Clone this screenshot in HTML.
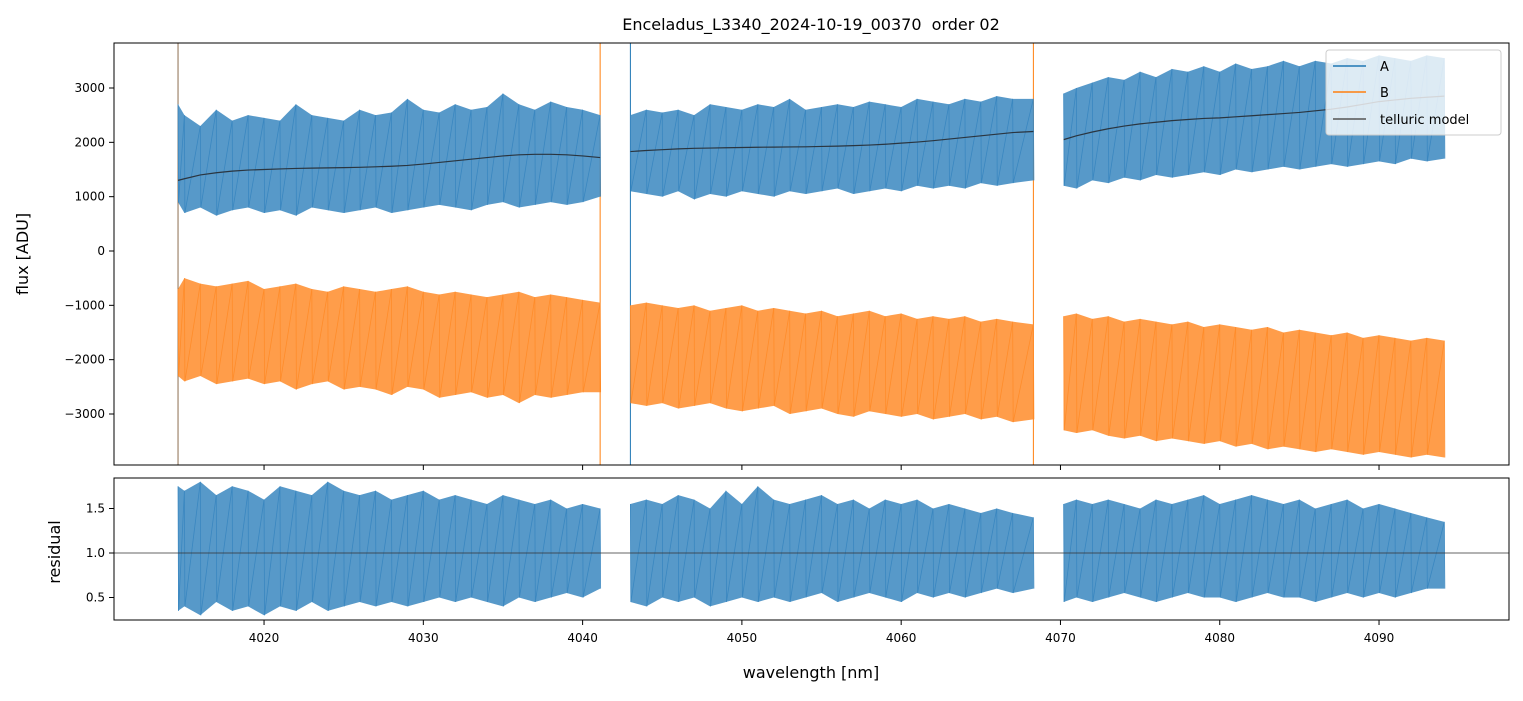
<!DOCTYPE html>
<html><head><meta charset="utf-8"><style>
body{margin:0;background:#fff;font-family:"Liberation Sans","DejaVu Sans",sans-serif}
svg text{font-family:"DejaVu Sans","Liberation Sans",sans-serif}
</style></head><body>
<svg id="chart" width="1523" height="696" xmlns="http://www.w3.org/2000/svg">
<defs>
<clipPath id="ct"><rect x="114" y="43" width="1395" height="422"/></clipPath>
<clipPath id="cb"><rect x="114" y="478" width="1395" height="142"/></clipPath>
</defs>
<g id="plot"></g>
<text x="811" y="30" font-size="16" text-anchor="middle">Enceladus_L3340_2024-10-19_00370&#160; order 02</text>
<text x="811" y="678" font-size="16" text-anchor="middle">wavelength [nm]</text>
<text transform="translate(28,254) rotate(-90)" font-size="16" text-anchor="middle">flux [ADU]</text>
<text transform="translate(60,552) rotate(-90)" font-size="16" text-anchor="middle">residual</text>
</svg>
<script>
const seg1 = [4014.6,4015,4016,4017,4018,4019,4020,4021,4022,4023,4024,4025,4026,4027,4028,4029,4030,4031,4032,4033,4034,4035,4036,4037,4038,4039,4040,4041.1];
const seg2 = [4043.0,4044,4045,4046,4047,4048,4049,4050,4051,4052,4053,4054,4055,4056,4057,4058,4059,4060,4061,4062,4063,4064,4065,4066,4067,4068.3];
const seg3 = [4070.2,4071,4072,4073,4074,4075,4076,4077,4078,4079,4080,4081,4082,4083,4084,4085,4086,4087,4088,4089,4090,4091,4092,4093,4094.1];
const aHi = [
 [2700,2500,2300,2600,2400,2500,2450,2400,2700,2500,2450,2400,2600,2500,2550,2800,2600,2550,2700,2600,2650,2900,2700,2600,2750,2650,2600,2500],
 [2500,2600,2550,2600,2500,2700,2650,2600,2700,2650,2800,2600,2650,2700,2650,2750,2700,2650,2800,2750,2700,2800,2750,2850,2800,2800],
 [2900,3000,3100,3200,3150,3300,3200,3350,3300,3400,3300,3450,3350,3400,3500,3400,3500,3450,3550,3500,3600,3550,3500,3600,3550]];
const aLo = [
 [900,700,800,650,750,800,700,750,650,800,750,700,750,800,700,750,800,850,800,750,850,900,800,850,900,850,900,1000],
 [1100,1050,1000,1100,950,1050,1000,1100,1050,1000,1100,1050,1100,1150,1050,1100,1150,1100,1200,1150,1200,1150,1250,1200,1250,1300],
 [1200,1150,1300,1250,1350,1300,1400,1350,1400,1450,1400,1500,1450,1500,1550,1500,1550,1600,1550,1600,1650,1600,1700,1650,1700]];
const bHi = [
 [-700,-500,-600,-650,-600,-550,-700,-650,-600,-700,-750,-650,-700,-750,-700,-650,-750,-800,-750,-800,-850,-800,-750,-850,-800,-850,-900,-950],
 [-1000,-950,-1000,-1050,-1000,-1100,-1050,-1000,-1100,-1050,-1100,-1150,-1100,-1200,-1150,-1100,-1200,-1150,-1250,-1200,-1250,-1200,-1300,-1250,-1300,-1350],
 [-1200,-1150,-1250,-1200,-1300,-1250,-1300,-1350,-1300,-1400,-1350,-1400,-1450,-1400,-1500,-1450,-1500,-1550,-1500,-1600,-1550,-1600,-1650,-1600,-1650]];
const bLo = [
 [-2300,-2400,-2300,-2450,-2400,-2350,-2450,-2400,-2550,-2450,-2400,-2550,-2500,-2550,-2650,-2500,-2550,-2700,-2650,-2600,-2700,-2650,-2800,-2650,-2700,-2650,-2600,-2600],
 [-2800,-2850,-2800,-2900,-2850,-2800,-2900,-2950,-2900,-2850,-3000,-2950,-2900,-3000,-3050,-2950,-3000,-3050,-3000,-3100,-3050,-3000,-3100,-3050,-3150,-3100],
 [-3300,-3350,-3300,-3400,-3450,-3400,-3500,-3450,-3500,-3550,-3500,-3600,-3550,-3650,-3600,-3650,-3700,-3650,-3700,-3750,-3700,-3750,-3800,-3750,-3800]];
const model = [
 [1300,1330,1400,1440,1470,1490,1500,1510,1520,1525,1530,1535,1540,1550,1560,1575,1600,1630,1660,1690,1720,1750,1770,1780,1780,1770,1750,1720],
 [1830,1850,1865,1880,1890,1895,1900,1905,1910,1912,1915,1918,1925,1930,1940,1950,1965,1985,2005,2030,2060,2090,2120,2150,2180,2200],
 [2050,2120,2190,2250,2300,2340,2370,2400,2420,2440,2450,2470,2490,2510,2530,2550,2580,2610,2650,2700,2750,2780,2810,2830,2850]];
const rHi = [
 [1.75,1.7,1.8,1.65,1.75,1.7,1.6,1.75,1.7,1.65,1.8,1.7,1.65,1.7,1.6,1.65,1.7,1.6,1.65,1.6,1.55,1.65,1.6,1.55,1.6,1.5,1.55,1.5],
 [1.55,1.6,1.55,1.65,1.6,1.5,1.7,1.55,1.75,1.6,1.55,1.6,1.65,1.55,1.6,1.5,1.6,1.55,1.6,1.5,1.55,1.5,1.45,1.5,1.45,1.4],
 [1.55,1.6,1.55,1.6,1.55,1.5,1.6,1.55,1.6,1.65,1.55,1.6,1.65,1.6,1.55,1.6,1.5,1.55,1.6,1.5,1.55,1.5,1.45,1.4,1.35]];
const rLo = [
 [0.35,0.4,0.3,0.45,0.35,0.4,0.3,0.4,0.35,0.45,0.35,0.4,0.45,0.4,0.45,0.4,0.45,0.5,0.45,0.5,0.45,0.4,0.5,0.45,0.5,0.55,0.5,0.6],
 [0.45,0.4,0.5,0.45,0.5,0.4,0.45,0.5,0.45,0.5,0.45,0.5,0.55,0.45,0.5,0.55,0.5,0.45,0.55,0.5,0.55,0.5,0.55,0.6,0.55,0.6],
 [0.45,0.5,0.45,0.5,0.55,0.5,0.45,0.5,0.55,0.5,0.5,0.45,0.5,0.55,0.5,0.5,0.45,0.5,0.55,0.5,0.55,0.5,0.55,0.6,0.6]];
const xTicks = [4020,4030,4040,4050,4060,4070,4080,4090];
const yTicksTop = [3000,2000,1000,0,-1000,-2000,-3000];
const yTicksBot = [1.5,1.0,0.5];
const segs=[seg1,seg2,seg3];

const NS="http://www.w3.org/2000/svg";
const X0=114,X1=1509,xmin=4010.58,xmax=4098.16;
const xs=v=>X0+(v-xmin)/(xmax-xmin)*(X1-X0);
const ys=v=>251-v*0.05433;
const yr=v=>553-(v-1)*89;
const plot=document.getElementById('plot');
function mk(tag,attrs,parent){const e=document.createElementNS(NS,tag);for(const k in attrs)e.setAttribute(k,attrs[k]);(parent||plot).appendChild(e);return e;}
const gt=mk('g',{'clip-path':'url(#ct)'});
const gb=mk('g',{'clip-path':'url(#cb)'});
function band(g,xsArr,hi,lo,ymap,color,name){
  let top=xsArr.map((w,i)=>xs(w)+','+ymap(hi[i]));
  let bot=xsArr.map((w,i)=>xs(w)+','+ymap(lo[i])).reverse();
  const p=mk('polygon',{points:top.concat(bot).join(' '),fill:color,'fill-opacity':0.85},g);
  
  
  let z=[];xsArr.forEach((w,i)=>{const x=xs(w);z.push(x+','+ymap(hi[i]));z.push((x+0.5)+','+ymap(lo[i]));});
  const l=mk('polyline',{points:z.join(' '),fill:'none',stroke:color,'stroke-width':0.8},g);
  
  
}
[[4014.6,'#8c6d4f'],[4041.1,'#ff7f0e'],[4043.0,'#1f77b4'],[4068.3,'#ff7f0e']].forEach(([w,c])=>{
  const l=mk('line',{x1:xs(w),x2:xs(w),y1:43,y2:465,stroke:c,'stroke-width':1},gt);
  
  
});
segs.forEach((s,k)=>{
  band(gt,s,bHi[k],bLo[k],ys,'#ff8c2a','series-b-seg'+(k+1));
  band(gt,s,aHi[k],aLo[k],ys,'#3a87c0','series-a-seg'+(k+1));
  const m=mk('polyline',{points:s.map((w,i)=>xs(w)+','+ys(model[k][i])).join(' '),fill:'none',stroke:'#2a3540','stroke-width':1.2},gt);
  
  
  band(gb,s,rHi[k],rLo[k],yr,'#3a87c0','residual-seg'+(k+1));
});
const one=mk('line',{x1:114,x2:1509,y1:yr(1),y2:yr(1),stroke:'#333','stroke-width':0.8},gb);


[[43,465,'top-axes-frame'],[478,620,'bottom-axes-frame']].forEach(([a,b,n])=>{
  const r=mk('rect',{x:114,y:a,width:1395,height:b-a,fill:'none',stroke:'#000','stroke-width':1});
  
  
});
xTicks.forEach(t=>{
  const x=xs(t);
  mk('line',{x1:x,x2:x,y1:465,y2:470,stroke:'#000'});
  mk('line',{x1:x,x2:x,y1:620,y2:625,stroke:'#000'});
  const tx=mk('text',{x:x,y:642,'font-size':12,'text-anchor':'middle'});tx.textContent=t;
  
  
});
yTicksTop.forEach(t=>{
  const y=ys(t);
  mk('line',{x1:109,x2:114,y1:y,y2:y,stroke:'#000'});
  const tx=mk('text',{x:105,y:y+4,'font-size':12,'text-anchor':'end'});tx.textContent=t<0?'\u2212'+(-t):t;
  
  
});
yTicksBot.forEach(t=>{
  const y=yr(t);
  mk('line',{x1:109,x2:114,y1:y,y2:y,stroke:'#000'});
  const tx=mk('text',{x:105,y:y+4,'font-size':12,'text-anchor':'end'});tx.textContent=t.toFixed(1);
  
  
});
const lg=mk('g',{});


mk('rect',{x:1326,y:50,width:175,height:85,rx:3,fill:'#fff','fill-opacity':0.8,stroke:'#ccc'},lg);
[['A','#1f77b4',66],['B','#ff7f0e',92],['telluric model','#555',119]].forEach(([n,c,y])=>{
  const e=mk('g',{},lg);
  
  
  mk('line',{x1:1333,x2:1366,y1:y,y2:y,stroke:c,'stroke-width':1.6},e);
  const t=mk('text',{x:1380,y:y+5,'font-size':13},e);t.textContent=n;
});
</script>
</body></html>
